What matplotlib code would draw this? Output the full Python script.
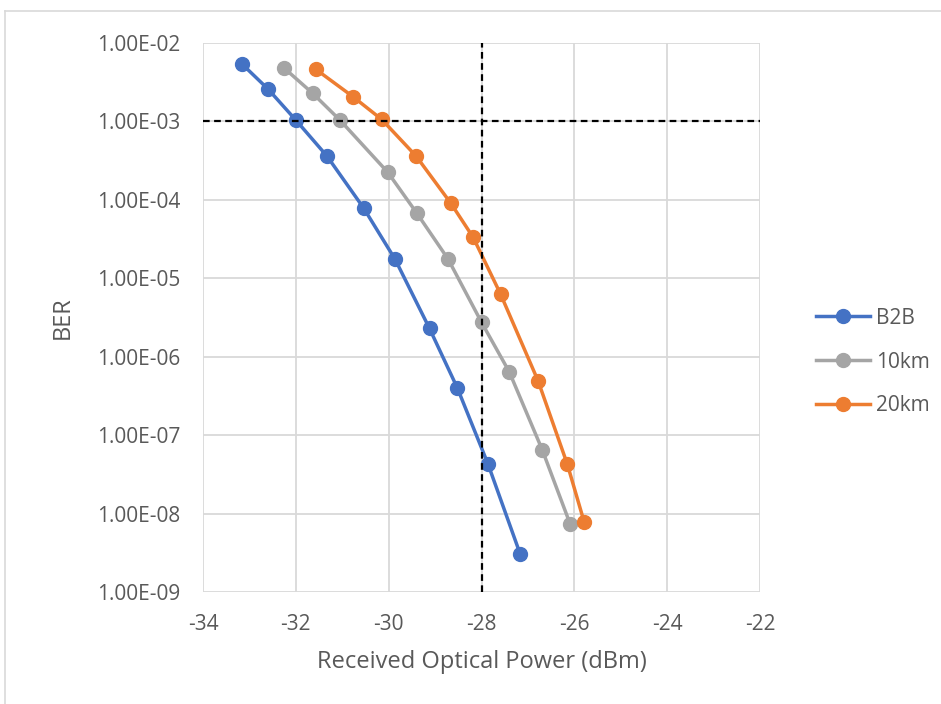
import matplotlib
matplotlib.use("Agg")
import matplotlib.pyplot as plt
from matplotlib.lines import Line2D
from matplotlib.ticker import FixedLocator, FuncFormatter

plt.rcParams['font.family'] = ['Open Sans', 'DejaVu Sans']

b2b_x = [-33.16, -32.60, -32.00, -31.33, -30.54, -29.86, -29.12, -28.52, -27.86, -27.17]
b2b_y = [5.4e-3, 2.59e-3, 1.04e-3, 3.62e-4, 7.87e-5, 1.74e-5, 2.29e-6, 3.99e-7, 4.28e-8, 3.09e-9]

km10_x = [-32.26, -31.64, -31.05, -30.02, -29.40, -28.72, -28.00, -27.40, -26.69, -26.09]
km10_y = [4.84e-3, 2.29e-3, 1.04e-3, 2.25e-4, 6.85e-5, 1.76e-5, 2.75e-6, 6.38e-7, 6.47e-8, 7.36e-9]

km20_x = [-31.57, -30.77, -30.15, -29.41, -28.66, -28.18, -27.59, -26.78, -26.15, -25.79]
km20_y = [4.62e-3, 2.07e-3, 1.06e-3, 3.62e-4, 9.04e-5, 3.33e-5, 6.3e-6, 4.9e-7, 4.24e-8, 7.87e-9]

series_names = ["B2B", "10km", "20km"]
colors = ["#4472C4", "#A5A5A5", "#ED7D31"]
ber_threshold = 1e-3
power_threshold = -28
x_ticks = [-34, -32, -30, -28, -26, -24, -22]
y_ticks = [1e-2, 1e-3, 1e-4, 1e-5, 1e-6, 1e-7, 1e-8, 1e-9]

fig = plt.figure(figsize=(9.41, 7.04), dpi=100)
ax = fig.add_axes([203/941, 1 - 592/704, (760-203)/941, (592-43)/704])

# outer chart border (top and left visible)
fig.add_artist(Line2D([5/941, 1], [1 - 11/704, 1 - 11/704], color="#d9d9d9", lw=1.2, transform=fig.transFigure))
fig.add_artist(Line2D([5/941, 5/941], [0, 1 - 11/704], color="#d9d9d9", lw=1.2, transform=fig.transFigure))

handles = []
for xs, ys, name, c in zip([b2b_x, km10_x, km20_x], [b2b_y, km10_y, km20_y], series_names, colors):
    h, = ax.plot(xs, ys, color=c, lw=2.5, marker='o', markersize=10, label=name, zorder=3)
    handles.append(h)

ax.axhline(ber_threshold, color='black', ls=(0, (3, 2)), lw=1.6, zorder=4)
ax.axvline(power_threshold, color='black', ls=(0, (3, 2)), lw=1.6, zorder=4)

ax.set_yscale('log')
ax.set_xlim(-34, -22)
ax.set_ylim(1e-9, 1e-2)
ax.xaxis.set_major_locator(FixedLocator(x_ticks))
ax.yaxis.set_major_locator(FixedLocator(y_ticks))
ax.yaxis.set_minor_locator(FixedLocator([]))
ax.yaxis.set_major_formatter(FuncFormatter(lambda v, p: "{:.2E}".format(v)))
ax.xaxis.set_major_formatter(FuncFormatter(lambda v, p: "{:d}".format(int(round(v)))))

ax.grid(True, which='major', color='#d9d9d9', lw=1.3, zorder=0)
for s in ax.spines.values():
    s.set_visible(False)
ax.tick_params(axis='both', length=0, labelsize=15, colors='#595959')
ax.tick_params(axis='y', pad=16)
ax.tick_params(axis='x', pad=16)

ax.set_xlabel("Received Optical Power (dBm)", fontsize=17, color='#595959', labelpad=11)
ax.set_ylabel("BER", fontsize=17, color='#595959', labelpad=16)

fig.legend(handles=handles, loc='center left', bbox_to_anchor=(816/941, 1 - 362/704),
           bbox_transform=fig.transFigure, frameon=False, fontsize=15,
           labelcolor='#595959', handlelength=2.6, labelspacing=1.1, handletextpad=0.3,
           borderpad=0, borderaxespad=0)

fig.savefig("out.png", dpi=100)
